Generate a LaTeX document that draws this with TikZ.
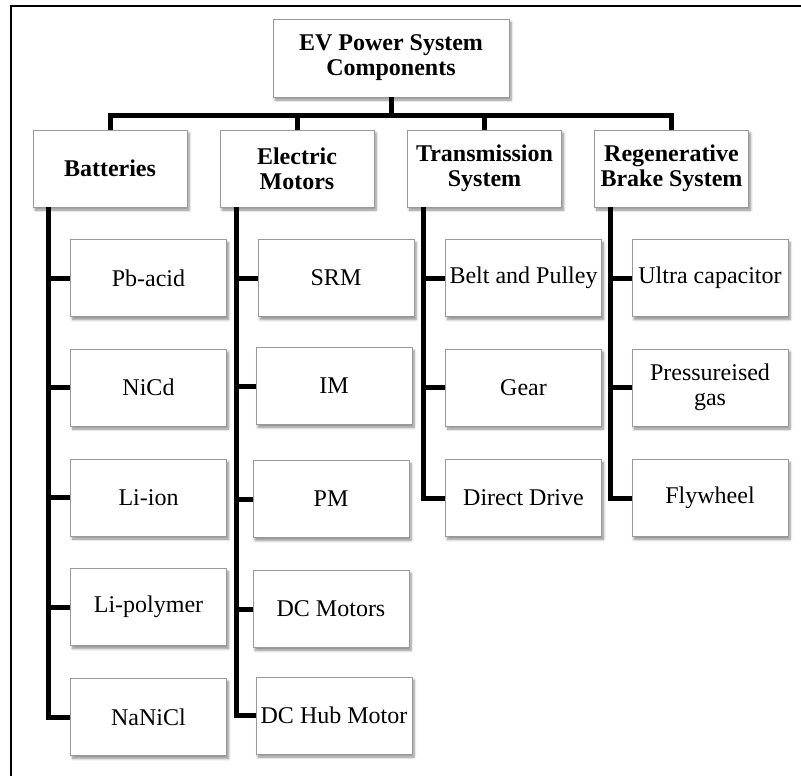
\documentclass[tikz,border=0pt]{standalone}
\usepackage{fontspec}
\setmainfont{Liberation Serif}
\usetikzlibrary{shadows.blur}

\tikzset{
  box/.style={draw=black!40, line width=0.9pt, fill=white, align=center,
    inner sep=1pt, font=\fontsize{24}{25}\selectfont,
    blur shadow={shadow xshift=2pt, shadow yshift=-3pt, shadow blur steps=6,
                 shadow blur radius=2.5pt, shadow opacity=45}},
  rootbox/.style={box, minimum width=236pt, minimum height=78pt,
    font=\fontsize{24}{25}\selectfont\bfseries},
  headbox/.style={box, minimum width=154pt, minimum height=77pt,
    font=\fontsize{24}{25}\selectfont\bfseries},
  leafbox/.style={box, minimum width=156pt, minimum height=77pt},
  link/.style={line width=5pt, line join=miter, draw=black},
  frameline/.style={line width=2.5pt, draw=black}
}

\begin{document}
\begin{tikzpicture}[x=1pt,y=-1pt]
  \useasboundingbox (0,0) rectangle (801,776);

  % partial frame: top and left edges
  \draw[frameline] (11,776) -- (11,6) -- (801,6);

  % root
  \node[rootbox] (root) at (391,58) {EV Power System\\Components};

  % first level
  \node[headbox] (bat) at (110,168.5) {Batteries};
  \node[headbox] (mot) at (297,168.5) {Electric\\Motors};
  \node[headbox] (tra) at (484.5,168.5) {Transmission\\System};
  \node[headbox] (reg) at (671.5,168.5) {Regenerative\\Brake System};

  % batteries
  \node[leafbox] (pb) at (148.5,278)   {Pb-acid};
  \node[leafbox] (ni) at (148.5,387.5) {NiCd};
  \node[leafbox] (li) at (148.5,497.5) {Li-ion};
  \node[leafbox] (lp) at (148.5,607)   {Li-polymer};
  \node[leafbox] (na) at (148.5,717)   {NaNiCl};

  % electric motors
  \node[leafbox] (srm) at (336,278)   {SRM};
  \node[leafbox] (im)  at (334,386)   {IM};
  \node[leafbox] (pm)  at (331,499)   {PM};
  \node[leafbox] (dcm) at (331,609)   {DC Motors};
  \node[leafbox] (dch) at (334,715.5) {DC Hub Motor};

  % transmission
  \node[leafbox] (belt) at (523.5,278)   {Belt and Pulley};
  \node[leafbox] (gear) at (523.5,387.5) {Gear};
  \node[leafbox] (dd)   at (523.5,498)   {Direct Drive};

  % regenerative braking
  \node[leafbox] (uc) at (710,278)   {Ultra capacitor};
  \node[leafbox] (pg) at (710,387.5) {Pressureised\\gas};
  \node[leafbox] (fw) at (710,498)   {Flywheel};

  % bus from root to first level
  \coordinate (bus) at (0,115);
  \draw[link] (root.south) -- (root.south |- bus);
  \draw[link] (bat.north) -- (bat.north |- bus) -| (reg.north);
  \draw[link] (mot.north) -- (mot.north |- bus);
  \draw[link] (tra.north) -- (tra.north |- bus);

  % vertical trunks
  \coordinate (tb) at (48,0);
  \coordinate (tm) at (236,0);
  \coordinate (tt) at (423,0);
  \coordinate (tr) at (610,0);

  \draw[link] (tb |- bat.south) |- (na.west);
  \foreach \n in {pb,ni,li,lp} \draw[link] (tb |- \n.west) -- (\n.west);

  \draw[link] (tm |- mot.south) |- (dch.west);
  \foreach \n in {srm,im,pm,dcm} \draw[link] (tm |- \n.west) -- (\n.west);

  \draw[link] (tt |- tra.south) |- (dd.west);
  \foreach \n in {belt,gear} \draw[link] (tt |- \n.west) -- (\n.west);

  \draw[link] (tr |- reg.south) |- (fw.west);
  \foreach \n in {uc,pg} \draw[link] (tr |- \n.west) -- (\n.west);
\end{tikzpicture}
\end{document}
